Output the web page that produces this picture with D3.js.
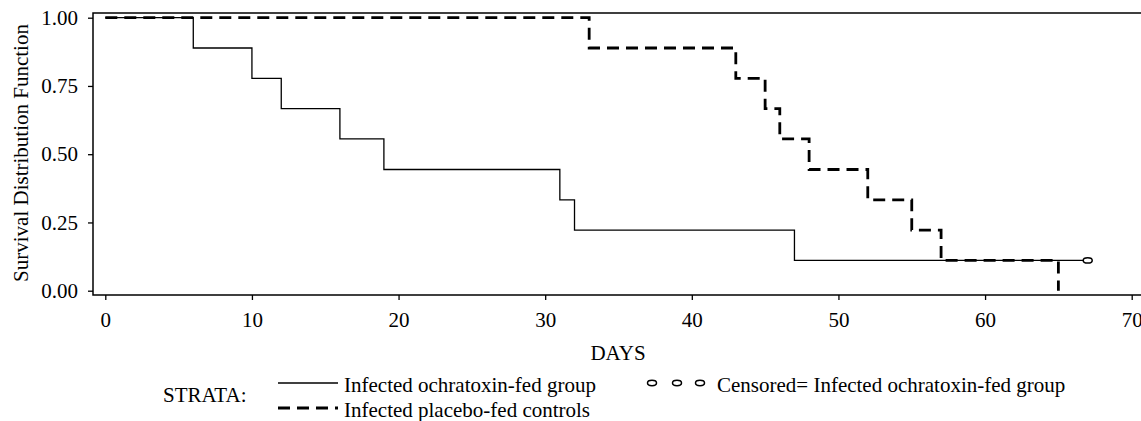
<!DOCTYPE html>
<html>
<head>
<meta charset="utf-8">
<script src="https://cdn.jsdelivr.net/npm/d3@7"></script>
<style>
  body { margin: 0; background: #fff; }
  svg text { font-family: "Liberation Serif", "Times New Roman", serif; fill: #000; }
</style>
</head>
<body>
<div class="chart"></div>
<script>
// Kaplan-Meier step points
const ochraDays = [0, 6, 10, 12, 16, 19, 31, 32, 47, 67];
const ochraSurv = [1.0, 0.889, 0.778, 0.667, 0.556, 0.444, 0.333, 0.222, 0.111, 0.111];
const placeboDays = [0, 33, 43, 45, 46, 48, 52, 55, 57, 65];
const placeboSurv = [1.0, 0.889, 0.778, 0.667, 0.556, 0.444, 0.333, 0.222, 0.111, 0.0];
const censoredDays = [67];
const censoredSurv = [0.111];
const xTicks = [0, 10, 20, 30, 40, 50, 60, 70];
const yTicks = [0, 0.25, 0.5, 0.75, 1.0];
const strataLabels = ["Infected ochratoxin-fed group", "Infected placebo-fed controls"];
const censorLabel = "Censored= Infected ochratoxin-fed group";

let outerWidth = 1141, outerHeight = 421;
let frame = {left: 93, top: 13, right: 1150, bottom: 295};

let svg = d3.select('.chart').append('svg')
    .attr('width', outerWidth)
    .attr('height', outerHeight);

const xScale = d3.scaleLinear().domain([0, 70]).range([105.3, 1131.7]);
const yScale = d3.scaleLinear().domain([0, 1]).range([290.7, 17.7]);

// frame (right edge falls outside the picture)
svg.append('path')
    .attr('d', `M${frame.right},${frame.top}H${frame.left}V${frame.bottom}H${frame.right}`)
    .attr('fill', 'none')
    .attr('stroke', '#000')
    .attr('stroke-width', 1.5);

let yAxis = d3.axisLeft(yScale)
    .tickValues(yTicks)
    .tickFormat(d3.format('.2f'))
    .tickSize(5)
    .tickPadding(10);

let yg = svg.append('g')
    .attr('transform', `translate(${frame.left},0)`)
    .call(yAxis);
yg.select('.domain').remove();
yg.selectAll('line').attr('stroke-width', 1.3);
yg.selectAll('text').attr('font-size', 21).attr('font-family', null);

let xAxis = d3.axisBottom(xScale)
    .tickValues(xTicks)
    .tickSize(5)
    .tickPadding(12);

let xg = svg.append('g')
    .attr('transform', `translate(0,${frame.bottom})`)
    .call(xAxis);
xg.select('.domain').remove();
xg.selectAll('line').attr('stroke-width', 1.3);
xg.selectAll('text').attr('font-size', 21).attr('font-family', null);

// axis titles
svg.append('text')
    .attr('transform', 'translate(28,153) rotate(-90)')
    .attr('text-anchor', 'middle')
    .attr('font-size', 21)
    .text('Survival Distribution Function');

svg.append('text')
    .attr('x', 618)
    .attr('y', 360)
    .attr('text-anchor', 'middle')
    .attr('font-size', 21)
    .text('DAYS');

// survival curves
const stepLine = d3.line()
    .x(d => xScale(d[0]))
    .y(d => yScale(d[1]))
    .curve(d3.curveStepAfter);

let ochra = ochraDays.map((d, i) => [d, ochraSurv[i]]);
let placebo = placeboDays.map((d, i) => [d, placeboSurv[i]]);

svg.append('path')
    .attr('d', stepLine(ochra))
    .attr('fill', 'none')
    .attr('stroke', '#000')
    .attr('stroke-width', 1.3);

svg.append('path')
    .attr('d', stepLine(placebo))
    .attr('fill', 'none')
    .attr('stroke', '#000')
    .attr('stroke-width', 2.8)
    .attr('stroke-dasharray', '12,7');

svg.selectAll('.censor')
    .data(censoredDays)
    .enter()
    .append('ellipse')
    .attr('class', 'censor')
    .attr('cx', d => xScale(d))
    .attr('cy', (d, i) => yScale(censoredSurv[i]))
    .attr('rx', 4.5)
    .attr('ry', 2.7)
    .attr('fill', '#fff')
    .attr('stroke', '#000')
    .attr('stroke-width', 1.5);

// legend
let legend = svg.append('g').attr('class', 'legend');

legend.append('text')
    .attr('x', 163)
    .attr('y', 402)
    .attr('font-size', 21)
    .text('STRATA:');

legend.selectAll('line')
    .data(strataLabels)
    .enter()
    .append('line')
    .attr('x1', 278)
    .attr('x2', 338)
    .attr('y1', (d, i) => 383 + i * 25)
    .attr('y2', (d, i) => 383 + i * 25)
    .attr('stroke', '#000')
    .attr('stroke-width', (d, i) => i == 0 ? 1.3 : 2.8)
    .attr('stroke-dasharray', (d, i) => i == 0 ? null : '12,7');

legend.selectAll('text.lab')
    .data(strataLabels)
    .enter()
    .append('text')
    .attr('class', 'lab')
    .attr('x', 344)
    .attr('y', (d, i) => 392 + i * 25)
    .attr('font-size', 21)
    .text(d => d);

legend.selectAll('ellipse')
    .data([652, 677, 700])
    .enter()
    .append('ellipse')
    .attr('cx', d => d)
    .attr('cy', 383)
    .attr('rx', 4.5)
    .attr('ry', 2.7)
    .attr('fill', 'none')
    .attr('stroke', '#000')
    .attr('stroke-width', 1.5);

legend.append('text')
    .attr('x', 717)
    .attr('y', 392)
    .attr('font-size', 21)
    .text(censorLabel);
</script>
</body>
</html>
